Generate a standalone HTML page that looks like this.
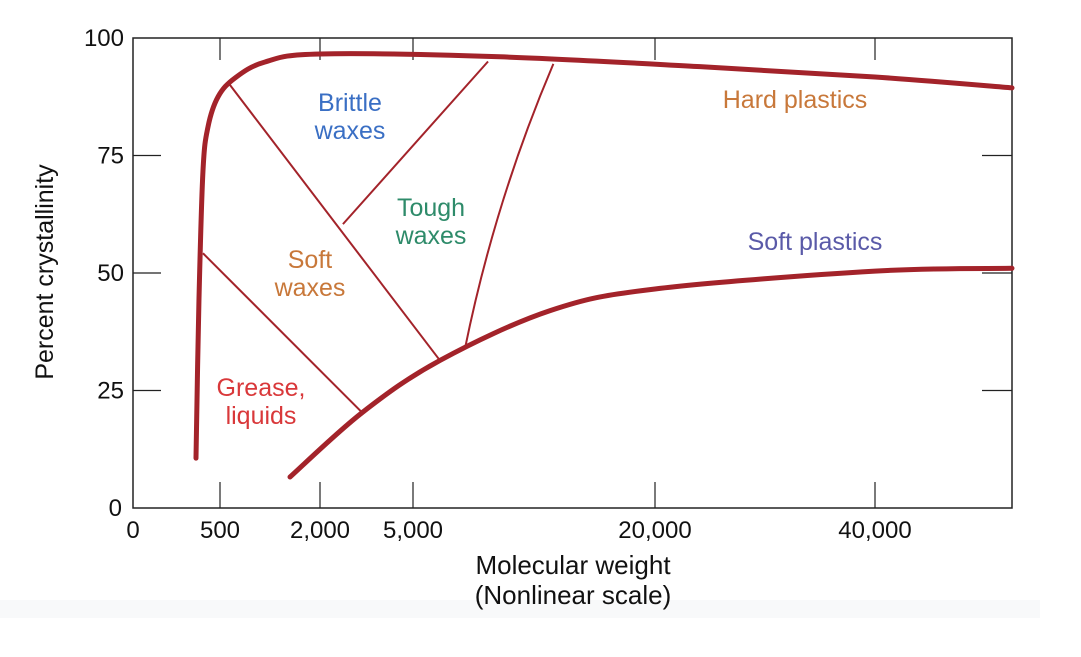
<!DOCTYPE html>
<html><head><meta charset="utf-8"><style>
html,body{margin:0;padding:0;background:#fff;}
svg text{font-family:"Liberation Sans",sans-serif;}
</style></head><body>
<svg width="1081" height="652" viewBox="0 0 1081 652">
<rect x="0" y="0" width="1081" height="652" fill="#fff"/>
<rect x="0" y="600" width="1040" height="18" fill="#f8f9fa"/>
<g id="plot"></g>
</svg>
<script>
const xTickVals=[0,500,2000,5000,20000,40000,52500];
const xTickLabels=["0","500","2,000","5,000","20,000","40,000"];
const yTickVals=[0,25,50,75,100];
const outerMW=[362,379,402,431,489,725,1175,2000,10400,24100,40000,52500];
const outerPct=[10.6,44.1,71.6,81.1,87.5,91.5,94.9,96.6,96.0,93.9,91.7,89.4];
const innerMW=[1550,3360,6670,13500,20000,40000,52500];
const innerPct=[6.6,20.3,31.4,42,46.6,50.4,51];
const boundaryLines=[[650,90,6670,31.4],[402,54.2,3360,20.3],[2740,60.4,9650,95]];
const toughCurve=[[8220,33.9],[10080,65.3],[13700,94.5]];
const regionLabels=[["Brittle","waxes",350,103,"#3a6fc4"],["Tough","waxes",431,208,"#2e8b6a"],["Soft","waxes",310,260,"#c8783a"],["Grease,","liquids",261,388,"#d9383a"],["Hard plastics","",795,100,"#c8783a"],["Soft plastics","",815,242,"#5a5aa8"]];
const xPix=[133,220,320,413,655,875,1012];
const L=133,R=1012,T=38,B=508;
function X(v){for(let i=0;i<xTickVals.length-1;i++){if(v<=xTickVals[i+1]){const t=(v-xTickVals[i])/(xTickVals[i+1]-xTickVals[i]);return xPix[i]+t*(xPix[i+1]-xPix[i]);}}return R;}
function Y(p){return B-(p/100)*(B-T);}
const NS="http://www.w3.org/2000/svg";const g=document.getElementById('plot');
function el(t,a){const e=document.createElementNS(NS,t);for(const k in a)e.setAttribute(k,a[k]);g.appendChild(e);return e;}
let e=el('rect',{x:L,y:T,width:R-L,height:B-T,fill:'none',stroke:'#222','stroke-width':1.5});


for(let i=1;i<xTickLabels.length;i++){const x=X(xTickVals[i]);
 e=el('line',{x1:x,x2:x,y1:T,y2:T+22,stroke:'#222','stroke-width':1.2});
 
 
 e=el('line',{x1:x,x2:x,y1:B,y2:B-26,stroke:'#222','stroke-width':1.2});
 
 }
xTickLabels.forEach((s,i)=>{const x=X(xTickVals[i]);e=el('text',{x:x,y:538,'font-size':24,'text-anchor':'middle',fill:'#111'});e.textContent=s;
 
 });
yTickVals.forEach(v=>{const y=Y(v);
 if(v>0&&v<100){e=el('line',{x1:L,x2:L+28,y1:y,y2:y,stroke:'#222','stroke-width':1.2});
 
 
 e=el('line',{x1:R-30,x2:R,y1:y,y2:y,stroke:'#222','stroke-width':1.2});
 
 }
 const x=v==0?122:124;
 e=el('text',{x:x,y:y+8,'font-size':24,'text-anchor':'end',fill:'#111'});e.textContent=String(v);
 
 });
function curvePath(ms,ps){const pts=ms.map((m,i)=>[X(m),Y(ps[i])]);
 let d='M'+pts[0][0]+','+pts[0][1];
 for(let i=0;i<pts.length-1;i++){const p0=pts[Math.max(0,i-1)],p1=pts[i],p2=pts[i+1],p3=pts[Math.min(pts.length-1,i+2)];
 const c1=[p1[0]+(p2[0]-p0[0])/6,p1[1]+(p2[1]-p0[1])/6],c2=[p2[0]-(p3[0]-p1[0])/6,p2[1]-(p3[1]-p1[1])/6];
 d+=' C'+c1+' '+c2+' '+p2;}return d;}
const col='#a3232a';
boundaryLines.forEach(b=>{e=el('line',{x1:X(b[0]),y1:Y(b[1]),x2:X(b[2]),y2:Y(b[3]),stroke:col,'stroke-width':2});
 
 });
e=el('path',{d:'M'+X(toughCurve[0][0])+','+Y(toughCurve[0][1])+' Q'+X(toughCurve[1][0])+','+Y(toughCurve[1][1])+' '+X(toughCurve[2][0])+','+Y(toughCurve[2][1]),fill:'none',stroke:col,'stroke-width':2});


e=el('path',{d:curvePath(outerMW,outerPct),fill:'none',stroke:col,'stroke-width':5,'stroke-linecap':'round'});


e=el('path',{d:curvePath(innerMW,innerPct),fill:'none',stroke:col,'stroke-width':5,'stroke-linecap':'round'});


regionLabels.forEach(r=>{e=el('text',{x:r[2],y:r[3]+8,'font-size':25,'text-anchor':'middle',fill:r[4]});
 const t1=document.createElementNS(NS,'tspan');t1.setAttribute('x',r[2]);t1.textContent=r[0];e.appendChild(t1);
 if(r[1]){const t2=document.createElementNS(NS,'tspan');t2.setAttribute('x',r[2]);t2.setAttribute('dy',28);t2.textContent=r[1];e.appendChild(t2);}
 
 });
e=el('text',{x:573,y:574,'font-size':26,'text-anchor':'middle',fill:'#111'});e.textContent='Molecular weight';


e=el('text',{x:573,y:604,'font-size':26,'text-anchor':'middle',fill:'#111'});e.textContent='(Nonlinear scale)';


e=el('text',{x:0,y:0,'font-size':25,'text-anchor':'middle',fill:'#111',transform:'translate(53,272) rotate(-90)'});e.textContent='Percent crystallinity';


</script>
</body></html>
